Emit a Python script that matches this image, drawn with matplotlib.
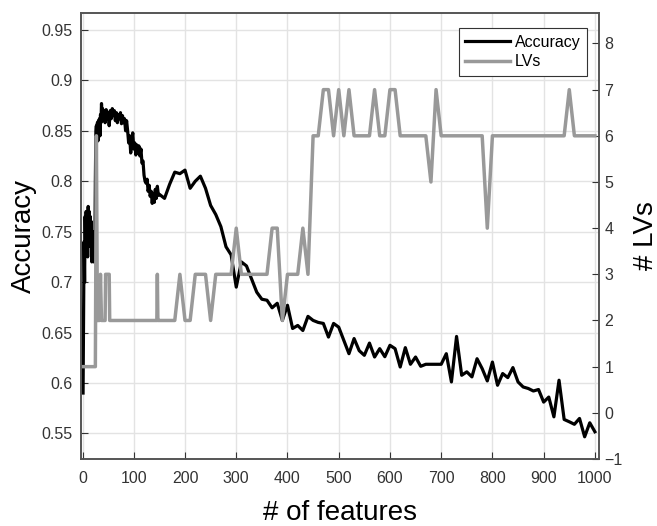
import numpy as np
import matplotlib
matplotlib.use("Agg")
import matplotlib.pyplot as plt

plt.rcParams['font.family'] = ['Liberation Sans', 'DejaVu Sans']

# accuracy, dense part (1..148) then every 10 features
acc_x = [1, 2, 3, 4, 5, 6, 7, 8, 9, 10, 11, 12, 13, 14, 15, 16, 17, 18, 19, 20,
         21, 22, 23, 24, 25, 26, 27, 28, 29, 30, 31, 32, 33, 34, 35, 36, 37, 38, 39, 40,
         42, 44, 46, 48, 50, 52, 54, 56, 58, 60, 62, 64, 66, 68, 70, 72, 74, 76, 78, 80,
         82, 84, 86, 88, 90, 92, 94, 96, 98, 100, 102, 104, 106, 108, 110, 112, 114, 116,
         118, 120, 122, 124, 126, 128, 130, 132, 134, 136, 138, 140, 142, 144, 146, 148]
acc_y = [0.59, 0.66, 0.74, 0.70, 0.765, 0.73, 0.77, 0.745, 0.76, 0.725, 0.775, 0.75, 0.77, 0.74,
         0.765, 0.735, 0.76, 0.72, 0.745, 0.73, 0.75, 0.72, 0.74, 0.73, 0.80, 0.85, 0.855, 0.845,
         0.858, 0.84, 0.86, 0.85, 0.862, 0.845, 0.866, 0.858, 0.877, 0.865, 0.872, 0.862,
         0.87, 0.858, 0.871, 0.862, 0.868, 0.855, 0.87, 0.862, 0.872, 0.865, 0.87, 0.86, 0.868,
         0.858, 0.866, 0.862, 0.868, 0.857, 0.865, 0.858, 0.862, 0.85, 0.86, 0.85, 0.838, 0.845,
         0.828, 0.84, 0.848, 0.832, 0.838, 0.826, 0.836, 0.828, 0.835, 0.825, 0.832, 0.818,
         0.82, 0.806, 0.80, 0.798, 0.802, 0.79, 0.796, 0.785, 0.79, 0.778, 0.788, 0.779, 0.792,
         0.783, 0.795, 0.786]
acc_x += list(range(150, 1001, 10))
acc_y += [0.787, 0.783, 0.797, 0.809, 0.8075, 0.811, 0.793, 0.800, 0.805, 0.793,
          0.776, 0.767, 0.755, 0.735, 0.727, 0.695, 0.720, 0.716, 0.703, 0.690,
          0.683, 0.682, 0.6745, 0.679, 0.662, 0.677, 0.654, 0.657, 0.652, 0.666,
          0.662, 0.660, 0.659, 0.6455, 0.659, 0.6553, 0.642, 0.629, 0.644, 0.632,
          0.6274, 0.6395, 0.6257, 0.634, 0.626, 0.6373, 0.634, 0.6158, 0.635, 0.6185,
          0.6257, 0.6165, 0.6185, 0.6185, 0.6185, 0.6185, 0.629, 0.601, 0.6461, 0.6076,
          0.611, 0.606, 0.624, 0.6142, 0.602, 0.6207, 0.5977, 0.6093, 0.6053, 0.6152,
          0.601, 0.596, 0.5945, 0.592, 0.5935, 0.581, 0.586, 0.5664, 0.6027, 0.5638,
          0.5615, 0.559, 0.5648, 0.5466, 0.5605, 0.5516]

# number of latent variables
lv_x = [1, 25, 27, 29, 33, 35, 37, 44, 45, 52, 53, 145, 146, 147]
lv_y = [1, 1, 6, 2, 2, 3, 2, 2, 3, 3, 2, 2, 3, 2]
lv_x += list(range(150, 1001, 10))
lv_y += [2, 2, 2, 2, 3, 2, 2, 3, 3, 3, 2, 3, 3, 3, 3, 4, 3, 3, 3, 3,
         3, 3, 4, 4, 2, 3, 3, 3, 4, 3, 6, 6, 7, 7, 6, 7, 6, 7, 6, 6,
         6, 6, 7, 6, 6, 7, 7, 6, 6, 6, 6, 6, 6, 5, 7, 6, 6, 6, 6, 6,
         6, 6, 6, 6, 4, 6, 6, 6, 6, 6, 6, 6, 6, 6, 6, 6, 6, 6, 6, 6,
         7, 6, 6, 6, 6, 6]

fig = plt.figure(figsize=(6.57, 5.26), dpi=100)
ax1 = fig.add_axes([0.1233, 0.1274, 0.7884, 0.8479])
ax2 = ax1.twinx()

l1, = ax1.plot(acc_x, acc_y, color='black', lw=2.3, label='Accuracy')
l2, = ax2.plot(lv_x, lv_y, color='#999999', lw=2.5, label='LVs')

ax1.set_xlim(-3, 1008)
ax1.set_ylim(0.5246, 0.9668)
ax2.set_ylim(-1, 8.66)
ax1.set_xticks(np.arange(0, 1001, 100))
ax1.set_yticks([0.55, 0.6, 0.65, 0.7, 0.75, 0.8, 0.85, 0.9, 0.95])
ax1.set_yticklabels(['0.55', '0.6', '0.65', '0.7', '0.75', '0.8', '0.85', '0.9', '0.95'])
ax2.set_yticks(np.arange(-1, 9))

ax1.grid(True, color='#e3e3e3', lw=1)
ax1.set_axisbelow(True)

ax1.tick_params(axis='x', direction='in', length=5, pad=9, labelsize=11.5, colors='#333333')
ax1.tick_params(axis='y', direction='in', length=5, pad=6, labelsize=11.5, colors='#333333')
ax2.tick_params(axis='y', direction='in', length=5, pad=4, labelsize=11.5, colors='#333333')
for ax in (ax1, ax2):
    for s in ax.spines.values():
        s.set_color('#555555')
        s.set_linewidth(1.2)

ax1.set_xlabel('# of features', fontsize=20, labelpad=10)
ax1.set_ylabel('Accuracy', fontsize=20, labelpad=3)
ax2.set_ylabel('# LVs', fontsize=20, labelpad=7)

leg = ax2.legend([l1, l2], ['Accuracy', 'LVs'], loc='upper right',
                 bbox_to_anchor=(0.977, 0.966), borderaxespad=0, fontsize=11.5,
                 handlelength=2.8, handletextpad=0.3, fancybox=False,
                 framealpha=1, edgecolor='#333333', borderpad=0.4, labelspacing=0.3)
leg.get_frame().set_linewidth(0.8)

plt.savefig('out.png', dpi=100)
